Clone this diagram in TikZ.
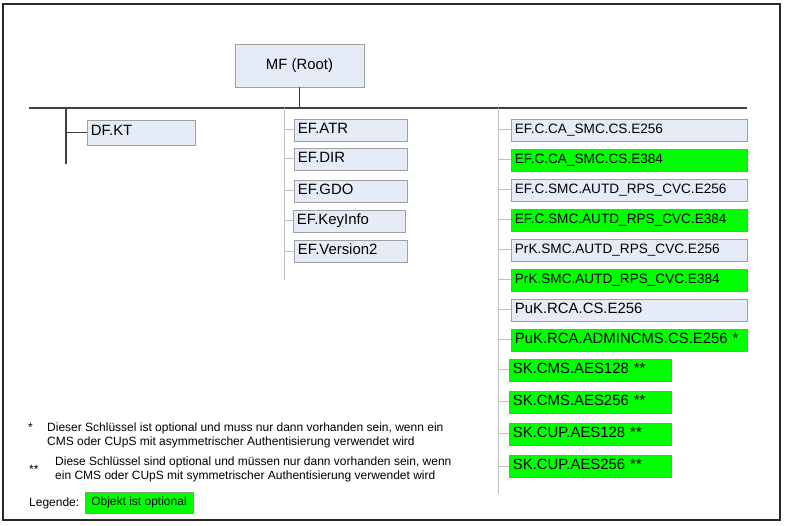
\documentclass[tikz,border=0pt]{standalone}
\usepackage{fontspec}
\setmainfont{Liberation Sans}
\definecolor{boxblue}{RGB}{230,236,247}
\definecolor{boxline}{RGB}{160,160,160}
\definecolor{optgreen}{RGB}{0,255,0}
\definecolor{optline}{RGB}{130,150,130}
\definecolor{darkline}{RGB}{64,64,64}
\definecolor{lightline}{RGB}{192,192,192}
\definecolor{framecol}{RGB}{40,40,40}
\begin{document}
\begin{tikzpicture}[x=1pt,y=-1pt,
  box/.style={line width=0.8pt, inner xsep=3.5pt, inner ysep=0pt, minimum height=22pt,
    anchor=west, align=left, text height=10pt, text depth=3.5pt},
  bluebox/.style={box, draw=boxline, fill=boxblue},
  optbox/.style={box, draw=optline, fill=optgreen},
  fsa/.style={font=\fontsize{13.6}{16}\selectfont},
  fsb/.style={font=\fontsize{14.9}{17}\selectfont},
  darkstroke/.style={draw=darkline, line width=1.4pt},
  lightstroke/.style={draw=lightline, line width=1pt},
  fnote/.style={font=\fontsize{12}{14}\selectfont, inner sep=0pt, anchor=west,
    text height=9pt, text depth=3pt}
]
\useasboundingbox (0,0) rectangle (785,526);
\fill[white] (0,0) rectangle (785,526);
\draw[framecol, line width=2pt] (3,4) rectangle (780,520);

% root
\node[draw=boxline, fill=boxblue, line width=0.8pt, minimum width=129pt, minimum height=43pt,
  inner sep=0pt, fsb] (root) at (299.5,65.5) {MF (Root)};

% main bus
\coordinate (hl) at (29,108);
\coordinate (hr) at (747,108);
\draw[darkstroke] (hl) -- (hr);
\draw[darkstroke] (root.south) -- (root.south |- hl);

% DF.KT branch
\coordinate (dft) at (66,108);
\coordinate (dfb) at (66,164);
\draw[darkstroke] (dft) -- (dfb);
\node[bluebox, fsb, minimum height=25pt, text width=101pt] (dfkt) at (87,132.5) {DF.KT};
\draw[darkstroke, line width=1pt] (dft |- dfkt.west) -- (dfkt.west);

% EF column
\coordinate (eft) at (284,108);
\coordinate (efb) at (284,280);
\draw[lightstroke] (eft) -- (efb);
\node[bluebox, fsb, text width=106pt] (atr) at (294,130) {EF.ATR};
\node[bluebox, fsb, text width=106pt] (dir) at (294,159) {EF.DIR};
\node[bluebox, fsb, text width=106pt] (gdo) at (294,191) {EF.GDO};
\node[bluebox, fsb, text width=105pt] (keyinfo) at (293,221) {EF.KeyInfo};
\node[bluebox, fsb, text width=106pt] (ver2) at (294,251.5) {EF.Version2};
\foreach \n in {atr,dir,gdo,keyinfo,ver2}
  \draw[lightstroke] (eft |- \n.west) -- (\n.west);

% right column
\coordinate (rt) at (498,108);
\coordinate (rb) at (498,494);
\draw[lightstroke] (rt) -- (rb);
\node[bluebox, fsa, text width=229pt] (r1) at (511,130) {EF.C.CA\_SMC.CS.E256};
\node[optbox, fsa, text width=229pt] (r2) at (511,160) {EF.C.CA\_SMC.CS.E384};
\node[bluebox, fsa, text width=229pt] (r3) at (511,190) {EF.C.SMC.AUTD\_RPS\_CVC.E256};
\node[optbox, fsa, text width=229pt] (r4) at (511,220) {EF.C.SMC.AUTD\_RPS\_CVC.E384};
\node[bluebox, fsa, text width=229pt] (r5) at (511,250) {PrK.SMC.AUTD\_RPS\_CVC.E256};
\node[optbox, fsa, text width=229pt] (r6) at (511,280) {PrK.SMC.AUTD\_RPS\_CVC.E384};
\node[bluebox, fsb, text width=229pt] (r7) at (511,310) {PuK.RCA.CS.E256};
\node[optbox, fsb, text width=229pt] (r8) at (511,340) {PuK.RCA.ADMINCMS.CS.E256 *};
\node[optbox, fsb, text width=155pt] (s1) at (509,370) {SK.CMS.AES128 **};
\node[optbox, fsb, text width=155pt] (s2) at (509,402) {SK.CMS.AES256 **};
\node[optbox, fsb, text width=155pt] (s3) at (509,434) {SK.CUP.AES128 **};
\node[optbox, fsb, text width=155pt] (s4) at (509,466.5) {SK.CUP.AES256 **};
\foreach \n in {r1,r2,r3,r4,r5,r6,r7,r8,s1,s2,s3,s4}
  \draw[lightstroke] (rt |- \n.west) -- (\n.west);

% footnotes
\node[fnote] (st1) at (28,428.3) {*};
\node[fnote] (f1a) at (47,428.3) {Dieser Schlüssel ist optional und muss nur dann vorhanden sein, wenn ein};
\node[fnote] (f1b) at (47,442.3) {CMS oder CUpS mit asymmetrischer Authentisierung verwendet wird};
\node[fnote] (st2) at (29,470.5) {**};
\node[fnote] (f2a) at (55,462.3) {Diese Schlüssel sind optional und müssen nur dann vorhanden sein, wenn};
\node[fnote] (f2b) at (55,476.3) {ein CMS oder CUpS mit symmetrischer Authentisierung verwendet wird};

% legend
\node[fnote] (leg) at (29,503.8) {Legende:};
\node[draw=optline, fill=optgreen, line width=0.8pt, minimum width=108pt, minimum height=21pt,
  inner sep=0pt, font=\fontsize{12}{14}\selectfont, text height=9pt, text depth=3pt] (legbox) at (139,502.5) {Objekt ist optional};
\end{tikzpicture}
\end{document}
